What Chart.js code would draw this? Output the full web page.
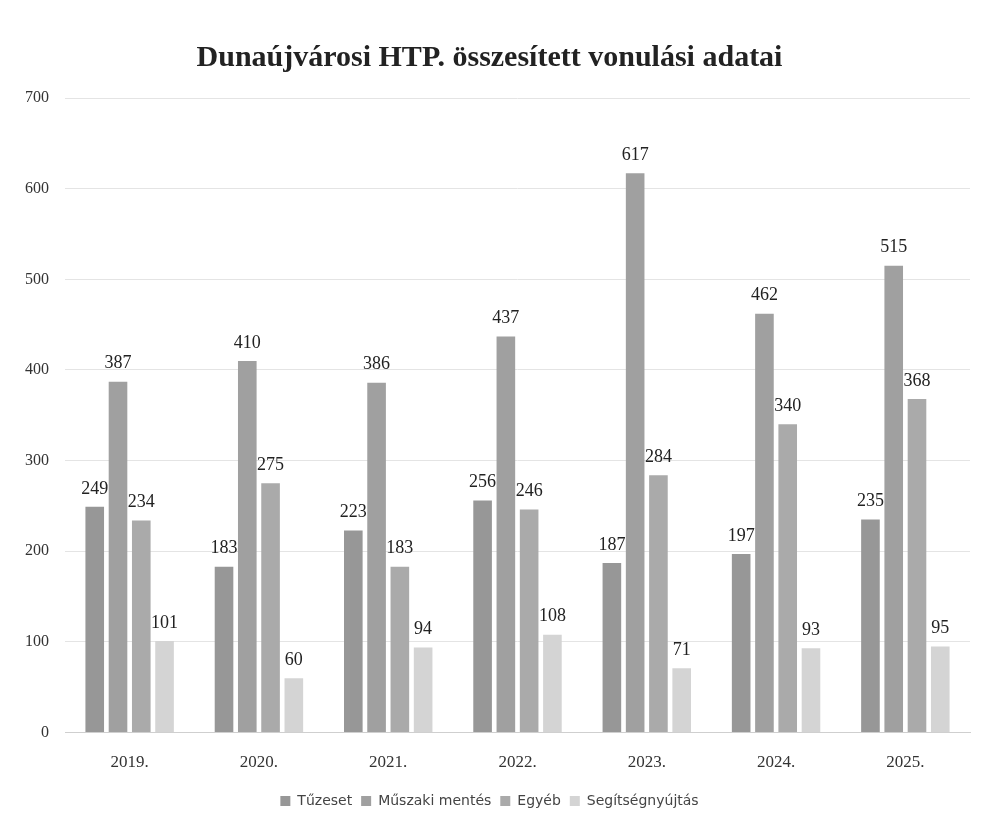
<!DOCTYPE html>
<html>
<head>
<meta charset="utf-8">
<script src="https://cdn.jsdelivr.net/npm/chart.js@4"></script>
<style>
  html, body { margin: 0; padding: 0; background: #fff; }
  #wrap { width: 984px; height: 832px; }
</style>
</head>
<body>
<div id="wrap"><canvas id="vonulasChart" width="984" height="832"></canvas></div>
<script>
// Adatok
const evek = ["2019.", "2020.", "2021.", "2022.", "2023.", "2024.", "2025."];
const tuzeset = [249, 183, 223, 256, 187, 197, 235];
const muszakiMentes = [387, 410, 386, 437, 617, 462, 515];
const egyeb = [234, 275, 183, 246, 284, 340, 368];
const segitsegnyujtas = [101, 60, 94, 108, 71, 93, 95];

// Értékfeliratok az oszlopok fölé
const ertekFelirat = {
  id: "ertekFelirat",
  afterDatasetsDraw(chart) {
    const ctx = chart.ctx;
    ctx.save();
    ctx.font = "18px 'Liberation Serif', serif";
    ctx.fillStyle = "#222";
    ctx.textAlign = "center";
    ctx.textBaseline = "bottom";
    chart.data.datasets.forEach((ds, i) => {
      chart.getDatasetMeta(i).data.forEach((bar, j) => {
        ctx.fillText(ds.data[j], bar.x, bar.y - 9);
      });
    });
    ctx.restore();
  },
};

const ctx = document.getElementById("vonulasChart").getContext("2d");

new Chart(ctx, {
  type: "bar",
  data: {
    labels: evek,
    datasets: [
      { label: "Tűzeset", data: tuzeset, backgroundColor: "#979797" },
      { label: "Műszaki mentés", data: muszakiMentes, backgroundColor: "#a0a0a0" },
      { label: "Egyéb", data: egyeb, backgroundColor: "#aaaaaa" },
      { label: "Segítségnyújtás", data: segitsegnyujtas, backgroundColor: "#d4d4d4" },
    ],
  },
  options: {
    responsive: false,
    animation: false,
    layout: { padding: { left: 9, right: 14, top: 24, bottom: 14 } },
    datasets: {
      bar: { categoryPercentage: 0.72, barPercentage: 0.8 },
    },
    scales: {
      y: {
        min: 0,
        max: 700,
        ticks: {
          stepSize: 100,
          color: "#333",
          padding: 16,
          font: { family: "'Liberation Serif', serif", size: 16 },
        },
        grid: { color: "#e4e4e4", drawTicks: false },
        border: { display: false },
      },
      x: {
        ticks: {
          color: "#333",
          padding: 12,
          font: { family: "'Liberation Serif', serif", size: 17 },
        },
        grid: { display: false },
        border: { color: "#cfcfcf" },
      },
    },
    plugins: {
      title: {
        display: true,
        text: "Dunaújvárosi HTP. összesített vonulási adatai",
        color: "#222",
        font: { family: "'Liberation Serif', serif", size: 30, weight: "bold" },
        padding: { top: 16, bottom: 22 },
      },
      legend: {
        position: "bottom",
        labels: {
          color: "#444",
          boxWidth: 10,
          boxHeight: 10,
          padding: 9,
          font: { family: "'DejaVu Sans', sans-serif", size: 14 },
        },
      },
      tooltip: { enabled: false },
    },
  },
  plugins: [ertekFelirat],
});
</script>
</body>
</html>
